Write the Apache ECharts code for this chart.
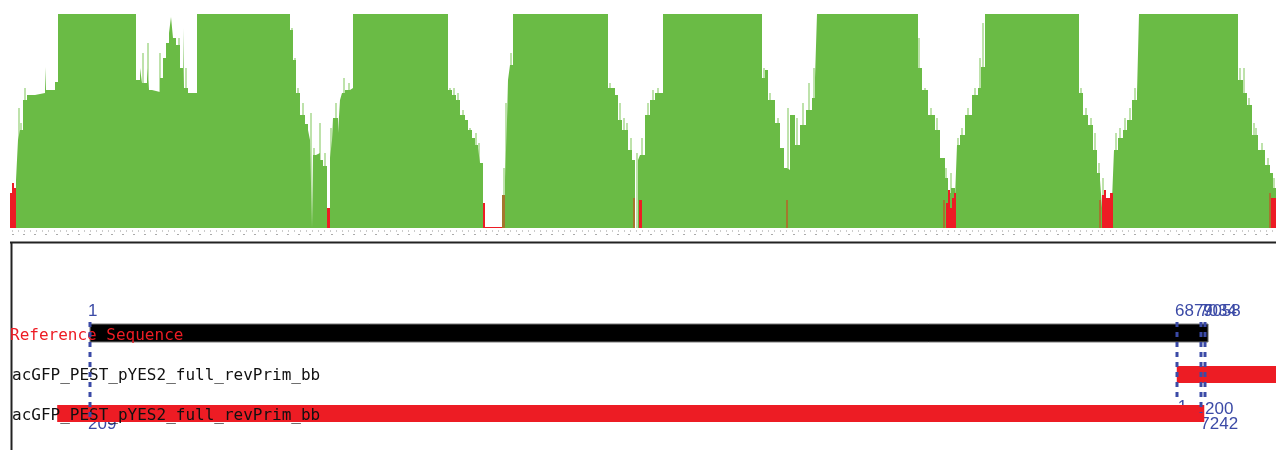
<!DOCTYPE html>
<html><head><meta charset="utf-8">
<script src="https://cdn.jsdelivr.net/npm/echarts@6/dist/echarts.min.js"></script>
<style>html,body{margin:0;padding:0;background:#fff}#c{width:1276px;height:450px}</style>
</head><body><div id="c"></div>
<script>
// ---- top track: coverage profile [column, height] (step) ----
const coverage = [
[10,0],[16,48],[18,88],[20,98],[23,128],[27,133],[35,135],[45,161],[46,138],[50,138],[55,146],[58,214],
[136,148],[140,160],[142,145],[147,160],[149,138],[152,136],[160,150],[163,170],[166,185],[169,195],[171,211],[173,190],[176,183],[180,160],[183,200],[184,140],[188,135],[197,214],
[290,198],[293,168],[296,135],[300,113],[305,104],[308,98],[310,88],[312,0],[313,73],[316,75],[320,68],[323,62],[327,0],
[330,70],[332,88],[333,110],[338,95],[340,128],[342,135],[345,138],[350,140],[353,214],
[448,138],[452,133],[456,128],[460,113],[465,108],[468,98],[472,90],[475,83],[478,80],[480,65],[483,0],
[505,48],[507,108],[508,148],[510,163],[513,214],
[608,140],[615,133],[618,108],[622,98],[628,78],[632,68],[635,0],[638,68],
[640,73],[645,113],[650,128],[655,135],[663,214],
[762,150],[765,158],[768,128],[775,105],[780,80],[784,60],[787,58],[790,113],[795,83],[800,103],[806,118],[812,130],[815,150],[817,214],
[918,160],[922,138],[928,113],[935,98],[940,70],[945,50],[948,35],[951,40],[955,30],[957,83],[960,93],[965,113],[972,133],[978,140],[981,161],[985,214],
[1079,135],[1083,113],[1088,103],[1093,78],[1097,55],[1100,48],[1102,20],[1112,28],[1114,78],[1118,90],[1123,98],[1127,108],[1132,128],[1137,135],[1139,214],
[1238,148],[1243,135],[1247,123],[1252,93],[1258,78],[1265,63],[1270,55],[1273,40],[1276,40]
];
// lighter single-column spikes
const spikes = [
[19,120],[21,105],[25,140],[143,175],[148,185],[160,175],[179,190],[186,160],[292,200],[295,170],[298,140],[303,125],[311,115],[314,80],[320,105],[325,75],
[331,100],[336,125],[344,150],[349,145],[450,140],[454,140],[458,135],[463,118],[470,100],[476,95],[479,85],[481,60],
[504,60],[506,125],[511,175],[610,145],[614,140],[620,125],[624,110],[627,105],[631,90],[637,75],
[642,90],[648,125],[653,138],[658,140],[760,165],[764,160],[770,135],[773,125],[778,110],[788,120],[793,95],[797,110],
[803,125],[809,145],[814,160],[919,190],[925,140],[931,120],[937,110],[943,70],[946,60],[951,55],[958,90],[962,100],[968,120],[975,140],[980,170],[983,205],
[1081,140],[1086,120],[1091,110],[1095,95],[1099,65],[1103,50],[1116,95],[1120,100],[1125,110],[1130,120],[1135,140],
[1240,160],[1244,160],[1249,130],[1254,105],[1256,100],[1262,85],[1268,70],[1274,50]
];
// low-quality columns (red): [fromColumn, toColumn, height]
const lowQuality = [
[10,12,35],[12,14,45],[14,16,40],
[327,330,20],
[483,485,25],[485,502,1],
[639,642,28],
[946,948,25],[948,950,38],[950,952,20],[952,954,30],[954,956,35],
[1102,1104,33],[1104,1106,38],[1106,1110,30],[1110,1113,35],
[1271,1276,30]
];
// mixed-quality columns (brown): [fromColumn, toColumn, height]
const mixedQuality = [
[502,505,33],[633,635,30],[786,788,28],[943,945,28],[1099,1101,28],[1269,1271,35]
];

// ---- bottom: alignment tracks ----
const trackNames = ['Reference Sequence', 'acGFP_PEST_pYES2_full_revPrim_bb', 'acGFP_PEST_pYES2_full_revPrim_bb'];
const trackStart = [1, 6879, -207];
const trackEnd = [7058, 7700, 7034];
const markerPos = [1, 6879, 7034, 7058];
const markerTopLabel = ['1', '6879', '7034', '7058'];
const markerBottomLabel = ['209', '1', '7242', '200'];

// layout constants
const trackY = [324, 366, 405], trackH = [18, 17, 17];
const trackFill = ['#000000', '#ed1c24', '#ed1c24'];
const nameColor = ['#ed1c24', '#111111', '#111111'];
const nameX = [10, 12, 12], nameY = [336, 376, 416];
const lineBottom = [422, 398, 413, 398];
const botLabelDx = [-2, 1, -1, 0], botLabelY = [424, 407, 424, 409];
const BLUE = '#3b4aa6';

function rectRenderer(color) {
  return (params, api) => {
    const p0 = api.coord([api.value(0), 0]);
    const p1 = api.coord([api.value(1), api.value(2)]);
    return {type: 'rect', shape: {x: p0[0], y: p1[1], width: p1[0] - p0[0], height: p0[1] - p1[1]},
            style: {fill: color}};
  };
}

const chart = echarts.init(document.getElementById('c'), null, {renderer: 'canvas'});
chart.setOption({
  animation: false,
  grid: [
    {left: 0, width: 1276, top: 14, height: 214},
    {left: 0, width: 1276, top: 244, height: 206}
  ],
  xAxis: [
    {type: 'value', gridIndex: 0, min: 0, max: 1276, show: false},
    {type: 'value', gridIndex: 1, min: -569, max: 7507, show: false}
  ],
  yAxis: [
    {type: 'value', gridIndex: 0, min: 0, max: 214, show: false},
    {type: 'value', gridIndex: 1, min: 0, max: 1, show: false}
  ],
  series: [
    {type: 'bar', xAxisIndex: 0, yAxisIndex: 0, data: spikes, barWidth: 1.5,
     itemStyle: {color: '#a9d88f'}, z: 1, silent: true},
    {type: 'line', xAxisIndex: 0, yAxisIndex: 0, data: coverage, step: 'end', symbol: 'none',
     lineStyle: {width: 0, opacity: 0}, areaStyle: {color: '#6abb45', opacity: 1}, z: 2, silent: true},
    {type: 'custom', xAxisIndex: 0, yAxisIndex: 0, data: mixedQuality, z: 3, silent: true,
     renderItem: rectRenderer('#a4772e')},
    {type: 'custom', xAxisIndex: 0, yAxisIndex: 0, data: lowQuality, z: 4, silent: true,
     renderItem: rectRenderer('#ed1c24')},
    // bottom labels beneath bars
    {type: 'custom', xAxisIndex: 1, yAxisIndex: 1, z: 5, silent: true, clip: false,
     data: markerPos.map((p, i) => [p, i]),
     renderItem: (params, api) => {
       const i = api.value(1);
       const x = api.coord([api.value(0), 0])[0];
       return {type: 'text', style: {text: markerBottomLabel[i], x: x + botLabelDx[i], y: botLabelY[i],
         font: '17px "Liberation Sans", Arial, sans-serif', fill: BLUE, verticalAlign: 'middle', align: 'left'}};
     }},
    // tracks
    {type: 'custom', xAxisIndex: 1, yAxisIndex: 1, z: 6, silent: true, clip: false,
     data: trackStart.map((s, i) => [s, trackEnd[i], i]),
     renderItem: (params, api) => {
       const i = api.value(2);
       const x0 = api.coord([api.value(0), 0])[0];
       const x1 = api.coord([api.value(1), 0])[0] + 3;
       return {type: 'group', children: [
         {type: 'rect', shape: {x: x0, y: trackY[i], width: x1 - x0, height: trackH[i]},
          style: {fill: trackFill[i], stroke: i === 0 ? '#777' : null, lineWidth: 1}},
         {type: 'text', z2: 10, style: {text: trackNames[i], x: nameX[i], y: nameY[i],
          font: '16px "DejaVu Sans Mono", "Liberation Mono", monospace', fill: nameColor[i], verticalAlign: 'middle'}}
       ]};
     }},
    // markers: dashed lines + top labels
    {type: 'custom', xAxisIndex: 1, yAxisIndex: 1, z: 7, silent: true, clip: false,
     data: markerPos.map((p, i) => [p, i]),
     renderItem: (params, api) => {
       const i = api.value(1);
       const x = Math.round(api.coord([api.value(0), 0])[0]);
       return {type: 'group', children: [
         {type: 'line', shape: {x1: x, y1: 322, x2: x, y2: lineBottom[i]},
          style: {stroke: BLUE, lineWidth: 3, lineDash: [5, 5]}},
         {type: 'text', style: {text: markerTopLabel[i], x: x - 2, y: 311,
          font: '17px "Liberation Sans", Arial, sans-serif', fill: BLUE, verticalAlign: 'middle'}}
       ]};
     }}
  ],
  graphic: [
    {type: 'line', shape: {x1: 12, y1: 231, x2: 1276, y2: 231}, style: {stroke: '#999999', lineWidth: 1, lineDash: [1, 5]}, silent: true},
    {type: 'line', shape: {x1: 12, y1: 234.5, x2: 1276, y2: 234.5}, style: {stroke: '#aaaaaa', lineWidth: 1, lineDash: [2, 9]}, silent: true},
    {type: 'line', shape: {x1: 10, y1: 242.5, x2: 1276, y2: 242.5}, style: {stroke: '#222222', lineWidth: 2}, silent: true},
    {type: 'line', shape: {x1: 11.5, y1: 242, x2: 11.5, y2: 450}, style: {stroke: '#222222', lineWidth: 2}, silent: true}
  ]
});
</script></body></html>
